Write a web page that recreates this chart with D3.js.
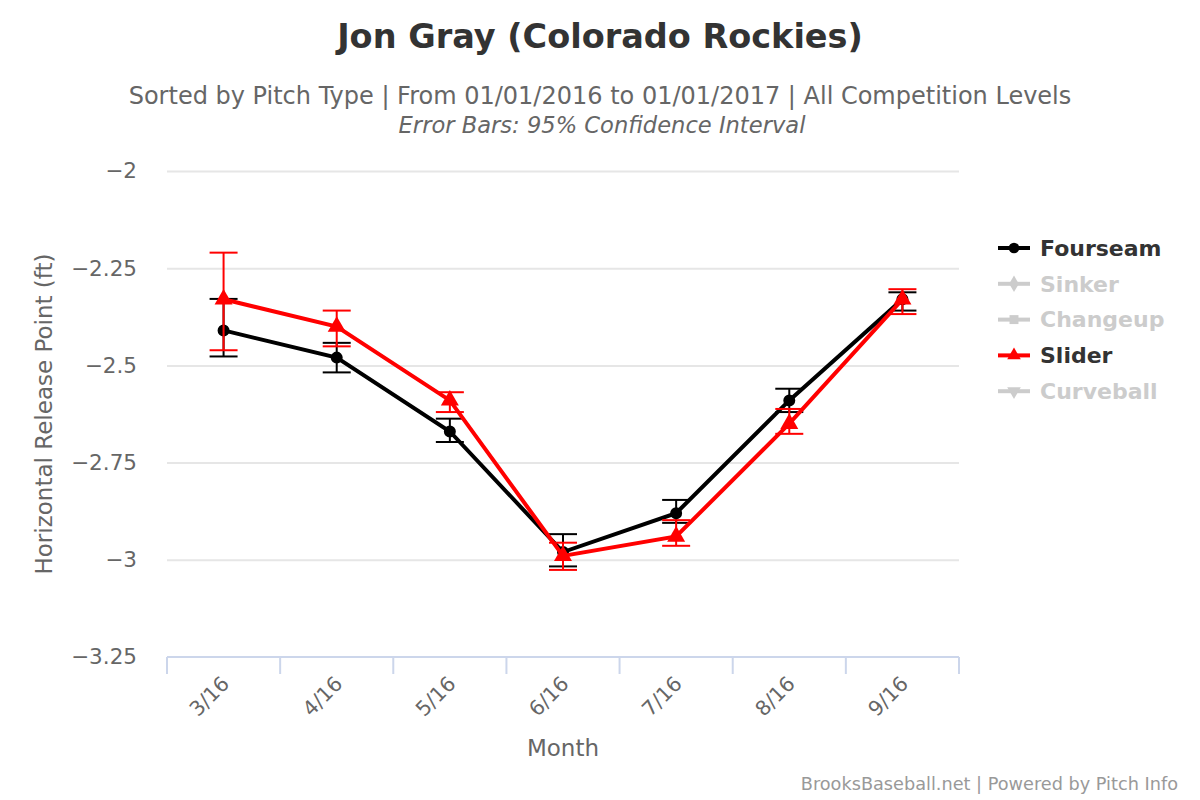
<!DOCTYPE html>
<html><head><meta charset="utf-8">
<script src="https://cdn.jsdelivr.net/npm/d3@7"></script>
<style>body{margin:0;background:#fff;} svg{display:block;font-family:"DejaVu Sans",sans-serif;}</style>
</head><body>
<svg id="c" width="1200" height="800"></svg>
<script>
const months = ["3/16","4/16","5/16","6/16","7/16","8/16","9/16"];
const yTicks = [-2,-2.25,-2.5,-2.75,-3,-3.25];
const fourseam = [-2.41,-2.48,-2.67,-2.98,-2.88,-2.59,-2.33];
const fourseamLow = [-2.477,-2.518,-2.697,-3.017,-2.905,-2.62,-2.359];
const fourseamHigh = [-2.329,-2.442,-2.637,-2.934,-2.846,-2.56,-2.312];
const slider = [-2.33,-2.40,-2.59,-2.99,-2.94,-2.65,-2.33];
const sliderLow = [-2.461,-2.451,-2.62,-3.026,-2.964,-2.676,-2.368];
const sliderHigh = [-2.21,-2.359,-2.569,-2.956,-2.898,-2.612,-2.304];
const legendNames = ["Fourseam","Sinker","Changeup","Slider","Curveball"];
const legendActive = [true,false,false,true,false];

const svg = d3.select("#c");
const L=167,R=959,T=171,B=657;
const x = d3.scaleBand().domain(months).range([L,R]);
const y = d3.scaleLinear().domain([-3.25,-2]).range([B,T]);

// title
svg.append("text").attr("x",600).attr("y",48).attr("text-anchor","middle")
  .attr("font-size",33.5).attr("font-weight","bold").attr("fill","#333").text("Jon Gray (Colorado Rockies)");
svg.append("text").attr("x",600).attr("y",104).attr("text-anchor","middle")
  .attr("font-size",24).attr("fill","#666").text("Sorted by Pitch Type | From 01/01/2016 to 01/01/2017 | All Competition Levels");
svg.append("text").attr("x",602).attr("y",133).attr("text-anchor","middle")
  .attr("font-size",22.6).attr("font-style","italic").attr("fill","#666").text("Error Bars: 95% Confidence Interval");

// grid
const yAxis = d3.axisLeft(y).tickValues(yTicks).tickSize(-(R-L)).tickPadding(30)
  .tickFormat(d=>String(d).replace("-","\u2212"));
const gy = svg.append("g").attr("transform",`translate(${L},0)`).call(yAxis);
gy.select(".domain").remove();
gy.selectAll(".tick line").attr("stroke","#e6e6e6").attr("stroke-width",2);
gy.selectAll(".tick text").attr("font-size",21.5).attr("fill","#666").attr("font-family","DejaVu Sans").attr("dy","0.32em");
gy.selectAll(".tick").filter(d=>d===-3.25).select("line").remove();

// x axis
const xAxis = d3.axisBottom(x).tickSize(0).tickFormat(d=>d);
const gx = svg.append("g").attr("transform",`translate(0,${B})`).call(xAxis);
gx.select(".domain").attr("stroke","#ccd6eb").attr("stroke-width",2).attr("d",`M${L},0H${R}`);
const edges = months.map(m=>x(m)).concat([R]);
gx.selectAll(".edge").data(edges).enter().append("line").attr("class","edge")
  .attr("x1",d=>d).attr("x2",d=>d).attr("y1",0).attr("y2",17).attr("stroke","#ccd6eb").attr("stroke-width",2);
gx.selectAll(".tick text").attr("font-size",20.5).attr("fill","#666").attr("font-family","DejaVu Sans")
  .attr("text-anchor","end").attr("dy",0).attr("y",0)
  .attr("transform","translate(7,28) rotate(-45)");

// axis titles
svg.append("text").attr("x",563).attr("y",756).attr("text-anchor","middle").attr("font-size",23).attr("fill","#666").text("Month");
svg.append("text").attr("transform","translate(52,414) rotate(-90)").attr("text-anchor","middle").attr("font-size",23).attr("fill","#666").text("Horizontal Release Point (ft)");

const cx = m=>x(m)+x.bandwidth()/2;
function series(vals,lo,hi,color,sym){
  const g = svg.append("g");
  const line = d3.line().x((d,i)=>cx(months[i])).y(d=>y(d));
  g.append("path").attr("d",line(vals)).attr("fill","none").attr("stroke",color).attr("stroke-width",4);
  const eb = g.selectAll(".eb").data(vals).enter().append("g");
  eb.append("line").attr("x1",(d,i)=>cx(months[i])).attr("x2",(d,i)=>cx(months[i]))
    .attr("y1",(d,i)=>y(hi[i])).attr("y2",(d,i)=>y(lo[i])).attr("stroke",color).attr("stroke-width",2);
  eb.append("line").attr("x1",(d,i)=>cx(months[i])-14).attr("x2",(d,i)=>cx(months[i])+14)
    .attr("y1",(d,i)=>y(hi[i])).attr("y2",(d,i)=>y(hi[i])).attr("stroke",color).attr("stroke-width",2);
  eb.append("line").attr("x1",(d,i)=>cx(months[i])-14).attr("x2",(d,i)=>cx(months[i])+14)
    .attr("y1",(d,i)=>y(lo[i])).attr("y2",(d,i)=>y(lo[i])).attr("stroke",color).attr("stroke-width",2);
  g.selectAll(".pt").data(vals).enter().append("path")
    .attr("transform",(d,i)=>`translate(${cx(months[i])},${y(d)})`)
    .attr("d",d3.symbol().type(sym).size(sym===d3.symbolCircle?113:140)).attr("fill",color);
}
series(fourseam,fourseamLow,fourseamHigh,"#000",d3.symbolCircle);
series(slider,sliderLow,sliderHigh,"#f00",d3.symbolTriangle);

// legend
const lg = svg.append("g");
const legColors = ["#000","#ccc","#ccc","#f00","#ccc"];
const legSyms = [d3.symbolCircle,d3.symbolDiamond,d3.symbolSquare,d3.symbolTriangle,d3.symbolTriangle];
legendNames.forEach((n,i)=>{
  const yy = 248 + i*35.8;
  const c = legendActive[i]?legColors[i]:"#ccc";
  lg.append("line").attr("x1",998).attr("x2",1030).attr("y1",yy).attr("y2",yy).attr("stroke",c).attr("stroke-width",4);
  lg.append("path").attr("transform",`translate(1014,${yy})${i===4?" rotate(180)":""}`)
    .attr("d",d3.symbol().type(legSyms[i]).size(i===0?90:80)).attr("fill",c);
  lg.append("text").attr("x",1040).attr("y",yy).attr("dy","0.35em").attr("font-size",22).attr("font-weight","bold")
    .attr("fill",legendActive[i]?"#333":"#ccc").text(n);
});

svg.append("text").attr("x",1178).attr("y",790).attr("text-anchor","end").attr("font-size",17.7).attr("fill","#999")
  .text("BrooksBaseball.net | Powered by Pitch Info");
</script>
</body></html>
